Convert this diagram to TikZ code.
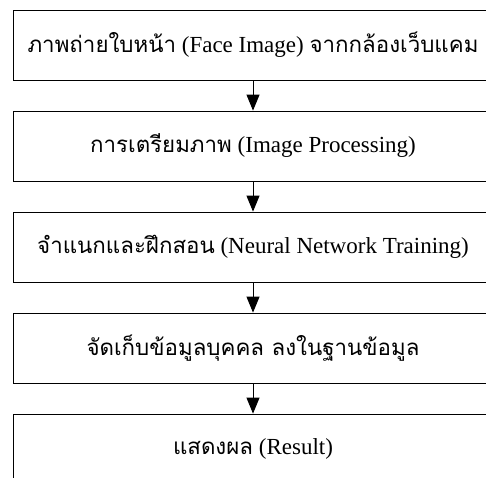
\documentclass[tikz,border=0pt]{standalone}
\usepackage{fontspec}
\setmainfont{Liberation Serif}
\newfontfamily\thai[Script=Thai,Scale=0.97]{Loma}
\usetikzlibrary{arrows.meta}
\begin{document}
\begin{tikzpicture}[x=1pt,y=-1pt,
  box/.style={draw, line width=0.8pt, minimum width=480pt, minimum height=70pt, inner sep=0pt, font=\fontsize{23}{27}\selectfont},
  flow/.style={-{Triangle[length=16pt,width=13pt]}, line width=0.9pt}]
\useasboundingbox (0,0) rectangle (486,477);
\clip (0,0) rectangle (486,477);
\node[box] (b1) at (253,45) {{\thai ภาพถ่ายใบหน้า} (Face Image) {\thai จากกล้องเว็บแคม}};
\node[box] (b2) at (253,146) {{\thai การเตรียมภาพ} (Image Processing)};
\node[box] (b3) at (253,247) {{\thai จำแนกและฝึกสอน} (Neural Network Training)};
\node[box] (b4) at (253,348) {{\thai จัดเก็บข้อมูลบุคคล ลงในฐานข้อมูล}};
\node[box] (b5) at (253,449) {{\thai แสดงผล} (Result)};
\draw[flow] (b1) -- (b2);
\draw[flow] (b2) -- (b3);
\draw[flow] (b3) -- (b4);
\draw[flow] (b4) -- (b5);
\end{tikzpicture}
\end{document}
